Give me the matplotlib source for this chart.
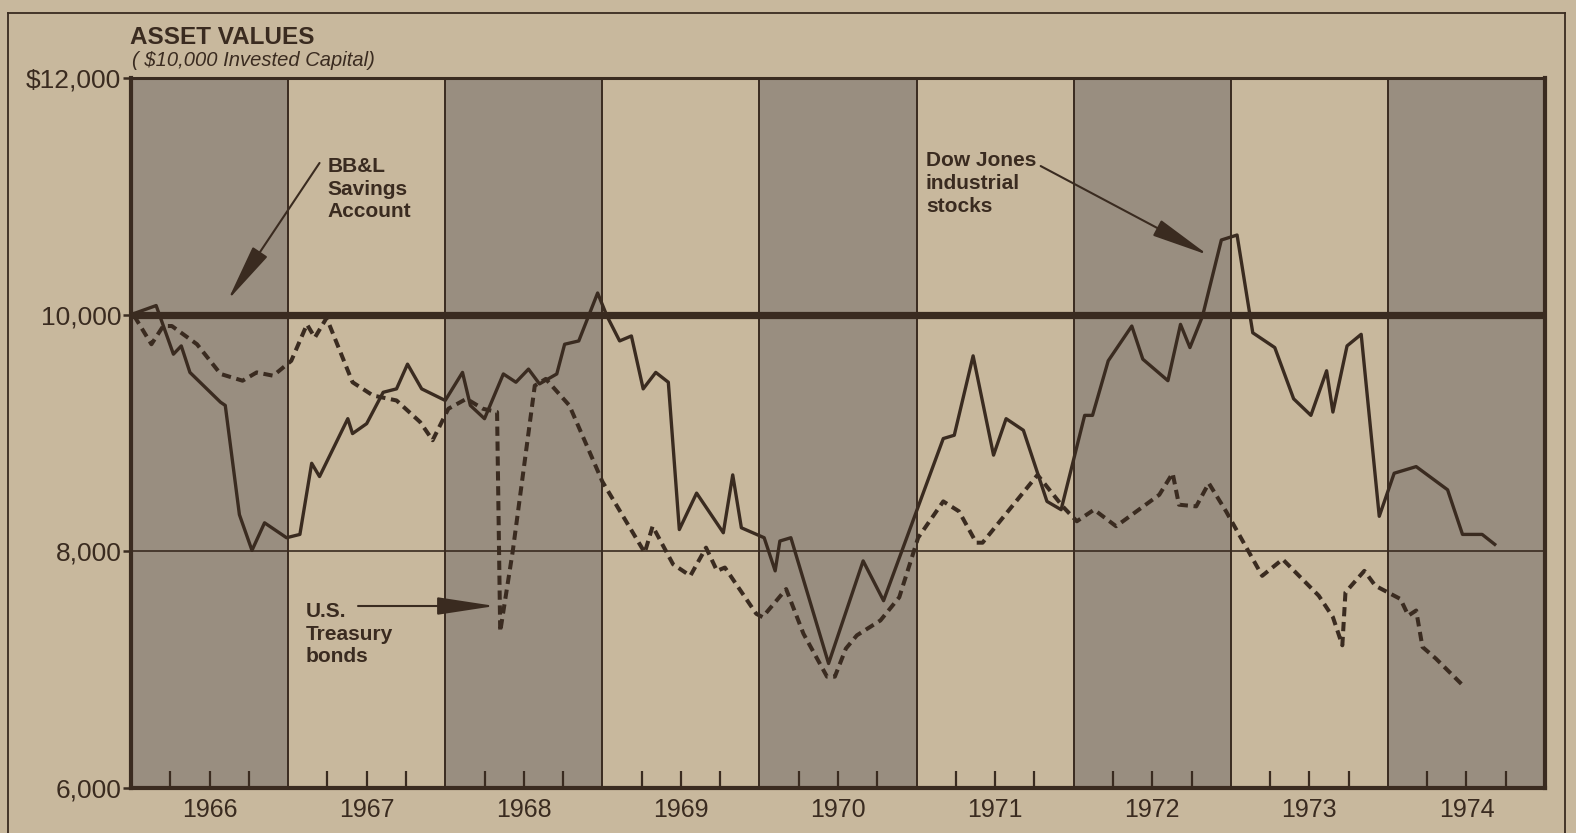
import matplotlib.pyplot as plt
from matplotlib.patches import FancyArrowPatch
from matplotlib.lines import Line2D

plt.rcParams['font.family'] = ['Liberation Sans', 'DejaVu Sans']

# colours of the old print
paper = '#c8b89d'
shade = '#998e80'
ink = '#3a2b20'

# data (decimal year, dollars)
years = [1966, 1967, 1968, 1969, 1970, 1971, 1972, 1973, 1974]
shaded_years = [1966, 1968, 1970, 1972, 1974]
y_ticks = [6000, 8000, 10000, 12000]
y_labels = ['6,000', '8,000', '10,000', '$12,000']
savings_level = 10000

dow_t = [1966.02, 1966.16, 1966.27, 1966.32, 1966.375, 1966.57, 1966.60, 1966.69, 1966.77, 1966.85,
         1966.99, 1967.075, 1967.15, 1967.20, 1967.38, 1967.41, 1967.50, 1967.605, 1967.69, 1967.76,
         1967.85, 1968.00, 1968.11, 1968.16, 1968.25, 1968.37, 1968.45, 1968.53, 1968.60, 1968.71,
         1968.76, 1968.85, 1968.97, 1969.03, 1969.11, 1969.185, 1969.26, 1969.34, 1969.42, 1969.49,
         1969.60, 1969.77, 1969.83, 1969.885, 1970.03, 1970.10, 1970.13, 1970.20, 1970.44, 1970.66,
         1970.79, 1971.17, 1971.24, 1971.36, 1971.49, 1971.57, 1971.68, 1971.83, 1971.92, 1972.07,
         1972.12, 1972.22, 1972.37, 1972.44, 1972.60, 1972.68, 1972.74, 1972.82, 1972.94, 1973.04,
         1973.14, 1973.28, 1973.40, 1973.51, 1973.61, 1973.65, 1973.74, 1973.83, 1973.945, 1974.04,
         1974.18, 1974.38, 1974.475, 1974.60, 1974.68]
dow_v = [10010, 10077, 9666, 9736, 9512, 9260, 9233, 8310, 8008, 8241,
         8115, 8143, 8744, 8632, 9121, 8995, 9079, 9344, 9373, 9582,
         9373, 9275, 9512, 9233, 9121, 9499, 9429, 9540, 9415, 9499,
         9750, 9778, 10183, 9987, 9778, 9820, 9373, 9512, 9429, 8184,
         8492, 8157, 8646, 8199, 8115, 7835, 8087, 8115, 7052, 7919,
         7583, 8953, 8981, 9652, 8813, 9121, 9023, 8422, 8352, 9149,
         9149, 9610, 9904, 9624, 9442, 9918, 9722, 9987, 10631, 10673,
         9847, 9722, 9289, 9149, 9526, 9177, 9736, 9834, 8296, 8660,
         8716, 8520, 8143, 8143, 8059]

bond_t = [1966.02, 1966.13, 1966.205, 1966.26, 1966.42, 1966.57, 1966.71, 1966.80, 1966.905, 1967.02,
          1967.12, 1967.17, 1967.245, 1967.41, 1967.54, 1967.69, 1967.84, 1967.92, 1968.02, 1968.135,
          1968.24, 1968.33, 1968.35, 1968.43, 1968.57, 1968.64, 1968.79, 1968.90, 1969.00, 1969.27,
          1969.32, 1969.45, 1969.56, 1969.66, 1969.73, 1969.78, 1969.98, 1970.02, 1970.17, 1970.28,
          1970.43, 1970.48, 1970.55, 1970.62, 1970.77, 1970.89, 1971.01, 1971.17, 1971.27, 1971.38,
          1971.42, 1971.77, 1971.93, 1972.02, 1972.13, 1972.27, 1972.545, 1972.63, 1972.67, 1972.78,
          1972.86, 1972.97, 1973.20, 1973.33, 1973.56, 1973.65, 1973.71, 1973.73, 1973.85, 1973.92,
          1974.08, 1974.13, 1974.18, 1974.22, 1974.305, 1974.475]
bond_v = [9990, 9750, 9904, 9904, 9750, 9499, 9442, 9512, 9484, 9610,
          9918, 9806, 9973, 9429, 9317, 9275, 9093, 8939, 9205, 9289,
          9205, 9177, 7321, 8003, 9400, 9457, 9233, 8897, 8590, 7989,
          8212, 7891, 7793, 8031, 7835, 7863, 7472, 7444, 7681, 7304,
          6941, 6941, 7178, 7290, 7416, 7612, 8115, 8422, 8338, 8073,
          8073, 8646, 8380, 8254, 8352, 8212, 8478, 8660, 8394, 8380,
          8576, 8338, 7793, 7933, 7625, 7444, 7206, 7654, 7835, 7709,
          7597, 7457, 7500, 7192, 7094, 6870]

W, H = 1576, 833
fig = plt.figure(figsize=(W / 100, H / 100), dpi=100, facecolor=paper)
ax = fig.add_axes([131 / W, 1 - 788 / H, (1545 - 131) / W, (788 - 78) / H])
ax.set_facecolor(paper)
ax.set_xlim(years[0], years[-1] + 1)
ax.set_ylim(y_ticks[0], y_ticks[-1])

# alternating year bands
for yr in shaded_years:
    ax.axvspan(yr, yr + 1, color=shade, lw=0, zorder=0)
for yr in years[1:]:
    ax.axvline(yr, color=ink, lw=1.4, zorder=1)
ax.axhline(8000, color=ink, lw=1.2, zorder=1)

# series
ax.plot([years[0], years[-1] + 1], [savings_level, savings_level], color=ink, lw=5.2,
        solid_capstyle='butt', zorder=3)
ax.plot(dow_t, dow_v, color=ink, lw=2.4, zorder=4)
ax.plot(bond_t, bond_v, color=ink, lw=2.9, dashes=(2.3, 1.4), zorder=4)

# axes frame
for side, w in [('left', 3.0), ('bottom', 3.0), ('right', 3.0), ('top', 2.2)]:
    ax.spines[side].set_color(ink)
    ax.spines[side].set_linewidth(w)

ax.set_yticks(y_ticks)
ax.set_yticklabels(y_labels)
ax.tick_params(axis='y', direction='out', length=6, width=1.8, color=ink,
               labelsize=19, labelcolor=ink, pad=1)

ax.set_xticks([yr + 0.5 for yr in years])
ax.set_xticklabels([str(yr) for yr in years])
ax.set_xticks([yr + q for yr in years for q in (0.25, 0.75)], minor=True)
ax.tick_params(axis='x', which='both', direction='in', length=12, width=1.6, color=ink,
               labelsize=18, labelcolor=ink, pad=7)

# titles
fig.text(130 / W, 1 - 37 / H, 'ASSET VALUES', fontsize=17.5, fontweight='bold',
         color=ink, va='center', ha='left')
fig.text(132 / W, 1 - 61 / H, '( $10,000 Invested Capital)', fontsize=14.5,
         fontstyle='italic', color=ink, va='center', ha='left')

# labels with arrows
lab = dict(fontsize=15, fontweight='bold', color=ink, ha='left', va='center',
           linespacing=1.25, zorder=6)
ax.text(1967.25, 11060, 'BB&L\nSavings\nAccount', **lab)
ax.text(1971.06, 11110, 'Dow Jones\nindustrial\nstocks', **lab)
ax.text(1967.11, 7300, 'U.S.\nTreasury\nbonds', **lab)

arrow_kw = dict(arrowstyle='-|>,head_length=3.6,head_width=0.55', mutation_scale=10,
                color=ink, lw=1.5, shrinkA=0, shrinkB=0, zorder=6)
ax.add_patch(FancyArrowPatch((1967.20, 11282), (1966.617, 10124), **arrow_kw))
ax.add_patch(FancyArrowPatch((1971.79, 11256), (1972.856, 10504), **arrow_kw))
ax.add_patch(FancyArrowPatch((1967.445, 7538), (1968.317, 7538), **arrow_kw))

# outer border of the printed box
fig.add_artist(Line2D([8 / W, 8 / W], [0, 1 - 13 / H], color=ink, lw=1.3))
fig.add_artist(Line2D([8 / W, 1565 / W], [1 - 13 / H, 1 - 13 / H], color=ink, lw=1.3))
fig.add_artist(Line2D([1565 / W, 1565 / W], [0, 1 - 13 / H], color=ink, lw=1.3))

fig.savefig('out.png', dpi=100, facecolor=paper)
